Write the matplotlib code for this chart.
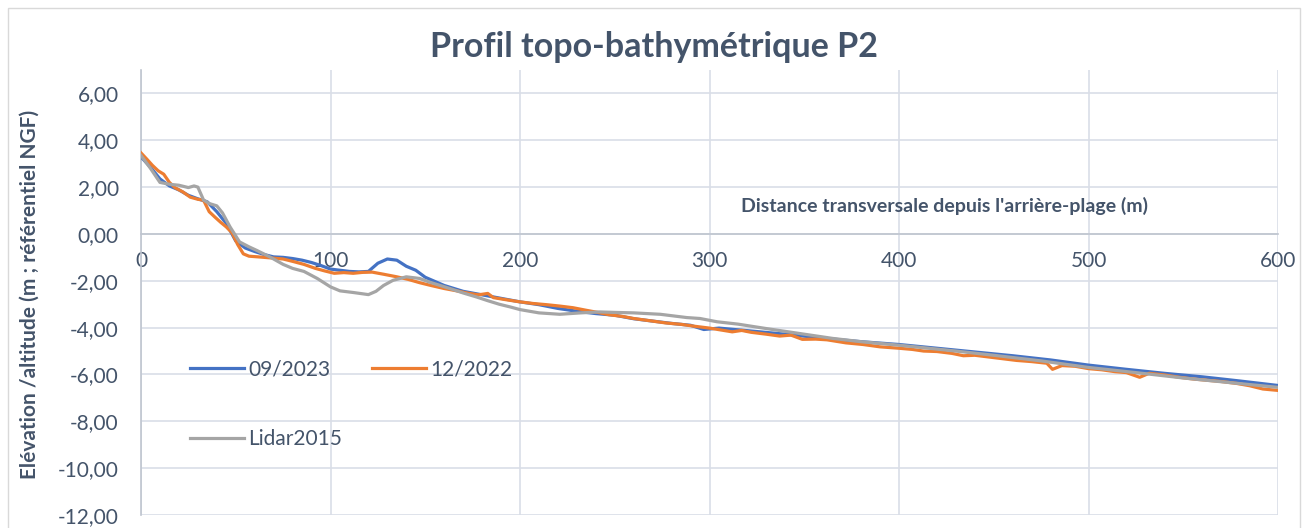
import matplotlib.pyplot as plt
from matplotlib.ticker import FuncFormatter
from matplotlib.patches import Rectangle

plt.rcParams['font.family'] = ['Lato', 'DejaVu Sans']

TXT = '#44546A'
GRID = '#D9DEE7'

# 09/2023
x_2023 = [0, 5, 10, 15, 20, 25, 30, 35, 40, 45, 50, 55, 60, 65, 70, 75, 80, 85, 90, 95,
          100, 105, 110, 115, 120, 125, 130, 135, 140, 145, 150, 160, 170, 180, 190, 200,
          210, 220, 230, 240, 250, 260, 270, 280, 290, 297, 305, 320, 340, 360, 380, 400,
          420, 440, 460, 480, 500, 520, 540, 560, 580, 600]
y_2023 = [3.29, 2.85, 2.35, 2.05, 1.88, 1.65, 1.5, 1.37, 0.95, 0.45, -0.3, -0.6, -0.75, -0.88,
          -0.98, -1.0, -1.05, -1.12, -1.22, -1.35, -1.5, -1.55, -1.6, -1.62, -1.6, -1.25,
          -1.07, -1.12, -1.38, -1.55, -1.85, -2.2, -2.45, -2.6, -2.75, -2.9, -3.02, -3.18,
          -3.3, -3.4, -3.47, -3.62, -3.72, -3.82, -3.9, -4.08, -4.02, -4.13, -4.28, -4.45,
          -4.6, -4.72, -4.88, -5.04, -5.2, -5.38, -5.6, -5.78, -5.95, -6.1, -6.28, -6.47]

# 12/2022
x_2022 = [0, 3, 6, 9, 12, 15, 18, 22, 26, 30, 33, 36, 39, 42, 45, 48, 51, 54, 57, 62, 68, 75,
          80, 86, 92, 97, 102, 107, 112, 117, 122, 128, 135, 141, 147, 153, 160, 166, 172,
          178, 183, 186, 192, 200, 207, 214, 221, 228, 235, 241, 247, 254, 260, 268, 277,
          285, 292, 300, 306, 312, 317, 322, 330, 337, 343, 349, 356, 362, 372, 381, 390,
          400, 407, 413, 420, 428, 434, 440, 447, 455, 462, 470, 478, 481, 486, 493, 500,
          507, 514, 520, 527, 532, 540, 548, 556, 563, 570, 578, 585, 592, 600]
y_2022 = [3.46, 3.2, 2.93, 2.7, 2.55, 2.2, 1.97, 1.8, 1.57, 1.48, 1.44, 0.95, 0.72, 0.5, 0.3,
          0.05, -0.45, -0.85, -0.95, -0.98, -1.02, -1.07, -1.17, -1.3, -1.47, -1.58, -1.68,
          -1.65, -1.68, -1.64, -1.63, -1.72, -1.83, -1.94, -2.08, -2.2, -2.33, -2.42, -2.52,
          -2.6, -2.54, -2.72, -2.8, -2.9, -2.97, -3.02, -3.08, -3.15, -3.26, -3.35, -3.45,
          -3.52, -3.61, -3.7, -3.8, -3.86, -3.94, -4.02, -4.1, -4.18, -4.12, -4.2, -4.28,
          -4.36, -4.32, -4.5, -4.49, -4.52, -4.65, -4.72, -4.82, -4.88, -4.93, -5.0, -5.02,
          -5.1, -5.2, -5.18, -5.25, -5.33, -5.4, -5.45, -5.52, -5.78, -5.62, -5.65, -5.75,
          -5.8, -5.88, -5.92, -6.12, -5.95, -6.02, -6.12, -6.2, -6.25, -6.3, -6.38, -6.48,
          -6.62, -6.68]

# Lidar2015
x_lidar = [0, 5, 10, 15, 20, 25, 28, 30, 33, 36, 40, 43, 47, 52, 57, 61, 68, 75, 80, 86, 93,
           100, 105, 112, 120, 124, 128, 133, 140, 147, 152, 163, 170, 177, 183, 189, 195,
           200, 205, 210, 221, 232, 242, 250, 260, 274, 288, 295, 304, 315, 330, 345, 365,
           380, 400, 412, 430, 450, 475, 500, 525, 550, 575, 600]
y_lidar = [3.35, 2.8, 2.2, 2.12, 2.08, 1.98, 2.05, 2.0, 1.45, 1.3, 1.2, 0.9, 0.3, -0.34, -0.55,
           -0.7, -0.98, -1.3, -1.47, -1.6, -1.9, -2.26, -2.43, -2.5, -2.59, -2.45, -2.2,
           -1.98, -1.83, -1.9, -2.05, -2.33, -2.52, -2.69, -2.85, -3.0, -3.12, -3.23, -3.3,
           -3.37, -3.43, -3.37, -3.33, -3.35, -3.37, -3.43, -3.57, -3.61, -3.75, -3.85,
           -4.04, -4.22, -4.46, -4.6, -4.75, -4.85, -5.0, -5.18, -5.42, -5.7, -5.92, -6.15,
           -6.35, -6.55]

fig = plt.figure(figsize=(13.08, 5.28), dpi=100)
ax = fig.add_axes([141 / 1308, 13 / 528, 1137 / 1308, 445 / 528])

# chart area border
fig.patches.append(Rectangle((8 / 1308, -0.01), 1292 / 1308, 1 - 8 / 528 + 0.01,
                             transform=fig.transFigure, fill=False,
                             edgecolor='#D9D9D9', lw=1))

l1, = ax.plot(x_2023, y_2023, color='#4472C4', lw=2.3, label='09/2023', zorder=3)
l2, = ax.plot(x_2022, y_2022, color='#ED7D31', lw=2.3, label='12/2022', zorder=4)
l3, = ax.plot(x_lidar, y_lidar, color='#A5A5A5', lw=2.3, label='Lidar2015', zorder=5)

ax.set_xlim(0, 600)
ax.set_ylim(-12, 7)
ax.set_xticks(range(0, 601, 100))
ax.set_yticks(range(-12, 7, 2))
ax.yaxis.set_major_formatter(FuncFormatter(lambda v, p: f"{v:.2f}".replace('.', ',')))
ax.grid(True, color=GRID, lw=1.2)
ax.set_axisbelow(True)

for s in ['top', 'right']:
    ax.spines[s].set_visible(False)
ax.spines['left'].set_color('#BFC5CF')
ax.spines['left'].set_linewidth(1.2)
ax.spines['bottom'].set_position(('data', 0))
ax.spines['bottom'].set_color('#BFC5CF')
ax.spines['bottom'].set_linewidth(1.2)

ax.tick_params(axis='both', length=0, labelsize=15, colors=TXT)
ax.tick_params(axis='x', pad=12)
ax.tick_params(axis='y', pad=16)

ax.set_ylabel("Elévation /altitude (m ; référentiel NGF)", fontsize=15,
              fontweight='bold', color=TXT)
ax.yaxis.set_label_coords(-0.0888, 0.495)
ax.set_xlabel("Distance transversale depuis l'arrière-plage (m)", fontsize=14,
              fontweight='bold', color=TXT, va='center')
ax.xaxis.set_label_coords(0.707, 0.695)

fig.suptitle("Profil topo-bathymétrique P2", fontsize=24.5, fontweight='bold',
             color=TXT, x=0.5, y=1 - 47 / 528, va='center')

# row-wise order: 09/2023 | 12/2022 on first row, Lidar2015 below
leg = ax.legend([l1, l3, l2], ['09/2023', 'Lidar2015', '12/2022'],
                loc='upper left', bbox_to_anchor=(0.043, 0.35), ncol=2, frameon=False,
                fontsize=15, handlelength=2.6, handletextpad=0.2, columnspacing=1.45,
                labelspacing=2.4, borderpad=0, borderaxespad=0)
for t in leg.get_texts():
    t.set_color(TXT)

fig.savefig('out.png', dpi=100)
